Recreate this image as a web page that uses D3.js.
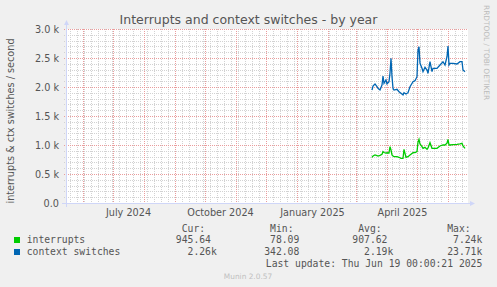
<!DOCTYPE html>
<html><head><meta charset="utf-8">
<script src="https://cdn.jsdelivr.net/npm/d3@7"></script>
<style>html,body{margin:0;padding:0;background:#F0F0F0;} svg{display:block;} text{white-space:pre;}</style>
</head><body><svg id="c" width="497" height="287"></svg>
<script>
// ---- data ----
const dates = ["2025-03-17","2025-03-18","2025-03-20","2025-03-22","2025-03-23","2025-03-25","2025-03-27","2025-03-28","2025-03-29","2025-03-31",
"2025-04-01","2025-04-03","2025-04-04","2025-04-05","2025-04-06","2025-04-07","2025-04-08","2025-04-11","2025-04-13","2025-04-15",
"2025-04-17","2025-04-18","2025-04-20","2025-04-22","2025-04-24","2025-04-27","2025-04-29","2025-05-01","2025-05-02","2025-05-03",
"2025-05-04","2025-05-06","2025-05-07","2025-05-09","2025-05-11","2025-05-12","2025-05-14","2025-05-16","2025-05-17","2025-05-21",
"2025-05-24","2025-05-27","2025-05-29","2025-05-31","2025-06-01","2025-06-02","2025-06-03","2025-06-06","2025-06-10","2025-06-13",
"2025-06-15","2025-06-16","2025-06-18"];
const contextSwitches = [1948,2017,2052,2005,1977,1948,2034,2190,2063,2121,
2052,2092,2236,2495,2178,1977,1948,1960,1919,1891,
1862,1902,1879,1902,2005,2092,2109,2178,2638,2695,
2409,2322,2264,2339,2293,2236,2436,2264,2322,2322,
2379,2436,2379,2522,2707,2379,2409,2409,2397,2436,
2436,2293,2264];
const interrupts = [788,810,828,816,810,822,839,885,870,860,
866,860,971,914,828,810,799,799,788,770,
770,925,788,799,828,868,868,885,1050,1098,
1017,971,943,960,925,948,1040,943,943,943,
983,1000,1000,1030,1098,1000,1000,1005,1011,1020,
1029,983,943];
const yTickValues = [0,500,1000,1500,2000,2500,3000];
const xLabelDates = ["2024-07-01","2024-10-01","2025-01-01","2025-04-01"];
const seriesNames = ["interrupts","context switches"];
const seriesColors = ["#00CC00","#0066B3"];
const statHeaders = ["Cur:","Min:","Avg:","Max:"];
const statCur = ["945.64 ","  2.26k"];
const statMin = [" 78.09 ","342.08 "];
const statAvg = ["907.62 ","  2.19k"];
const statMax = ["  7.24k"," 23.71k"];
const title = "Interrupts and context switches - by year";
const yLabel = "interrupts & ctx switches / second";
const lastUpdate = "Last update: Thu Jun 19 00:00:21 2025";

// ---- drawing ----
const W=497,H=287;
const P={l:66,r:466,t:29,b:203};
const svg=d3.select("#c");
svg.append("rect").attr("width",W).attr("height",H).attr("fill","#F0F0F0");
const parse=d3.utcParse("%Y-%m-%d");
const x=d3.scaleUtc().domain([Date.UTC(2024,4,15),Date.UTC(2025,5,19)]).range([P.l,P.r]);
const y=d3.scaleLinear().domain([0,3000]).range([P.b,P.t]);
const px=v=>Math.round(v)+0.5;

svg.append("rect").attr("x",P.l).attr("y",P.t).attr("width",P.r-P.l+2).attr("height",P.b-P.t+1).attr("fill","#FFFFFF");

const minorC="#D2D2D2", majorC="#EA9C9C";
const g=svg.append("g").attr("shape-rendering","crispEdges");
d3.range(0,3001,100).filter(v=>v%500!==0).forEach(v=>{
  g.append("line").attr("x1",P.l-2).attr("x2",P.r+2).attr("y1",px(y(v))).attr("y2",px(y(v)))
   .attr("stroke",minorC).attr("stroke-dasharray","1,1");
});
// vertical minor grid (weekly, Sundays)
const weeks=d3.utcSunday.range(x.domain()[0],x.domain()[1]);
weeks.forEach(d=>{
  g.append("line").attr("x1",px(x(d))).attr("x2",px(x(d))).attr("y1",P.t).attr("y2",P.b+2)
   .attr("stroke",minorC).attr("stroke-dasharray","1,1");
});
yTickValues.forEach(v=>{
  g.append("line").attr("x1",P.l-2).attr("x2",P.r+2).attr("y1",px(y(v))).attr("y2",px(y(v)))
   .attr("stroke",majorC).attr("stroke-dasharray","1,1");
});
const months=d3.utcMonth.range(x.domain()[0],x.domain()[1]);
months.forEach(d=>{
  g.append("line").attr("x1",px(x(d))).attr("x2",px(x(d))).attr("y1",P.t).attr("y2",P.b+2)
   .attr("stroke",majorC).attr("stroke-dasharray","1,1");
});

// axes lines
const axC="#CFD6F8";
g.append("line").attr("x1",P.l-4).attr("x2",P.r+5).attr("y1",px(P.b)).attr("y2",px(P.b)).attr("stroke",axC);
g.append("line").attr("x1",px(P.l)).attr("x2",px(P.l)).attr("y1",P.b+4).attr("y2",P.t-5).attr("stroke",axC);
svg.append("path").attr("d",`M${P.r+4},${P.b-2} L${P.r+9},${P.b+0.5} L${P.r+4},${P.b+3} Z`).attr("fill",axC);
svg.append("path").attr("d",`M${P.l-2},${P.t-4} L${P.l+0.5},${P.t-9} L${P.l+3},${P.t-4} Z`).attr("fill",axC);

// y axis labels
const fontS="DejaVu Sans", fontM="DejaVu Sans Mono", fc="#555555";
const yAxis=d3.axisLeft(y).tickValues(yTickValues).tickSize(0).tickPadding(0)
  .tickFormat(v=>v===0?"0.0":(v/1000).toFixed(1)+" k");
const ya=svg.append("g").attr("transform",`translate(${P.l-7},0)`).call(yAxis);
ya.select(".domain").remove();
ya.selectAll("text").attr("font-family",fontS).attr("font-size","9.7px").attr("fill",fc).attr("dy","0.35em");

// x axis labels (centred half a month after each quarter start)
const xAxis=d3.axisBottom(x).tickValues(xLabelDates.map(s=>parse(s))).tickSize(0).tickPadding(0)
  .tickFormat(d3.utcFormat("%B %Y"));
const xa=svg.append("g").attr("transform",`translate(15,${P.b+4})`).call(xAxis);
xa.select(".domain").remove();
xa.selectAll("text").attr("font-family",fontS).attr("font-size","9.7px").attr("fill",fc).attr("dy","0.9em");

// series lines
const line=d3.line().x(d=>x(d[0])).y(d=>y(d[1]));
[interrupts,contextSwitches].forEach((vals,i)=>{
  const pts=dates.map((s,j)=>[parse(s),vals[j]]);
  svg.append("path").attr("d",line(pts)).attr("fill","none").attr("stroke",seriesColors[i]).attr("stroke-width",1.3);
});

// title
svg.append("text").attr("x",248.5).attr("y",23.5).attr("text-anchor","middle").attr("font-family",fontS)
  .attr("font-size","12.5px").attr("fill",fc).text(title);
// y label
svg.append("text").attr("transform",`translate(13.5,121) rotate(-90)`).attr("text-anchor","middle")
  .attr("font-family",fontS).attr("font-size","9.7px").attr("fill",fc).text(yLabel);
// watermark right
svg.append("text").attr("transform","translate(484,5) rotate(90)").attr("font-family",fontS)
  .attr("font-size","7.4px").attr("fill","#BBBBBB").text("RRDTOOL / TOBI OETIKER");
// legend
const colR=[216.8,305.2,393.3,482.3];
const L=svg.append("g").attr("font-family",fontM).attr("font-size","9.72px").attr("fill",fc);
statHeaders.forEach((h,i)=>L.append("text").attr("x",colR[i]-11.7).attr("y",231.5).attr("text-anchor","end").text(h));
const stats=[statCur,statMin,statAvg,statMax];
seriesNames.forEach((n,r)=>{
  const yy=243+r*12;
  L.append("rect").attr("x",14).attr("y",yy-6).attr("width",6).attr("height",6).attr("fill",seriesColors[r]);
  L.append("text").attr("x",26.7).attr("y",yy).text(n);
  stats.forEach((col,i)=>L.append("text").attr("x",colR[i]).attr("y",yy).attr("text-anchor","end").text(col[r]));
});
L.append("text").attr("x",colR[3]).attr("y",267).attr("text-anchor","end").text(lastUpdate);
svg.append("text").attr("x",248).attr("y",279).attr("text-anchor","middle").attr("font-family",fontS)
  .attr("font-size","7.4px").attr("fill","#C0C0C0").text("Munin 2.0.57");
</script></body></html>
